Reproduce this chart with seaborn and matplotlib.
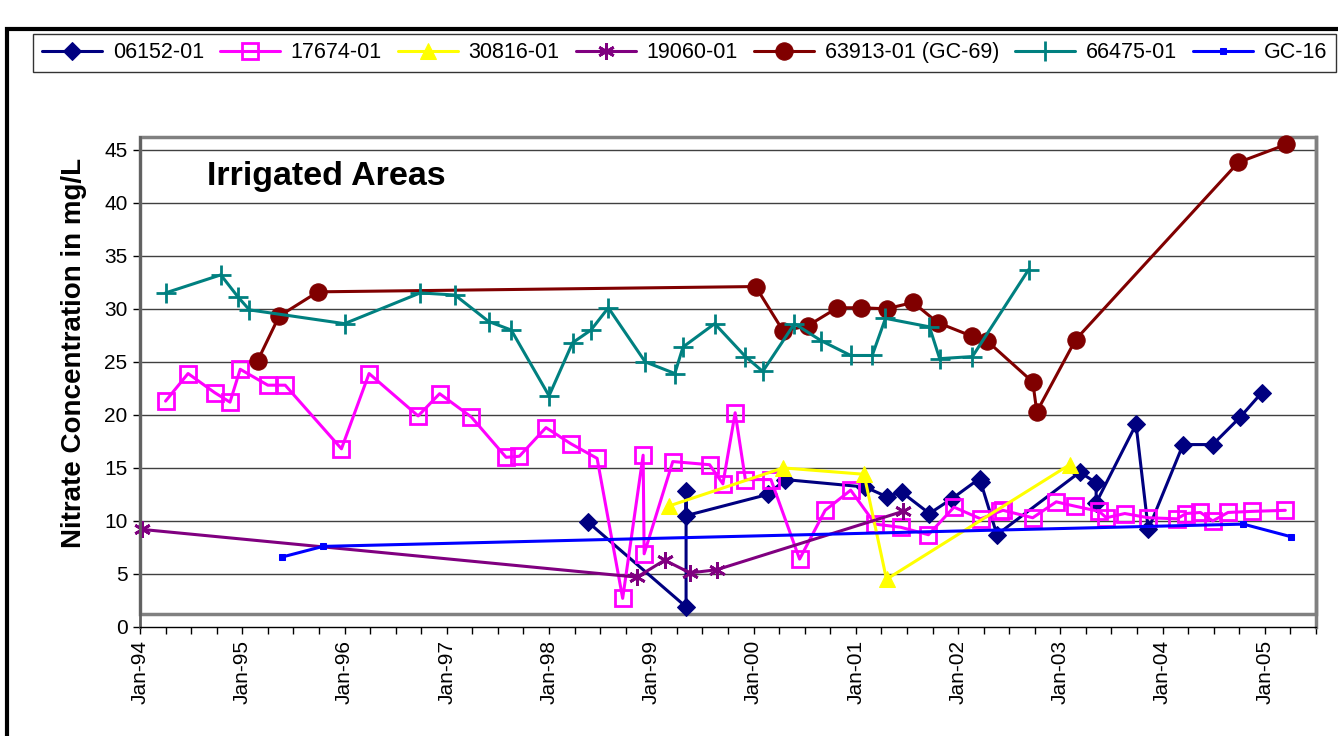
import matplotlib.pyplot as plt
import matplotlib.patches as patches
import pandas as pd
import seaborn as sns
from matplotlib.ticker import MultipleLocator

# dates as decimal years, values in mg/L
well_06152_x = [1998.38, 1999.34, 1999.34, 1999.34, 2000.14, 2000.31, 2001.09, 2001.30,
                2001.45, 2001.72, 2001.94, 2002.21, 2002.22, 2002.38, 2003.19, 2003.35,
                2003.35, 2003.74, 2003.86, 2004.20, 2004.49, 2004.76, 2004.97]
well_06152_y = [9.9, 1.9, 12.8, 10.5, 12.5, 13.9, 13.2, 12.3,
                12.7, 10.7, 12.1, 14.0, 13.7, 8.7, 14.6, 13.6,
                11.7, 19.1, 9.2, 17.2, 17.2, 19.8, 22.1]

well_17674_x = [1994.25, 1994.47, 1994.73, 1994.88, 1994.98, 1995.25, 1995.42, 1995.97,
                1996.24, 1996.72, 1996.93, 1997.24, 1997.58, 1997.71, 1997.97, 1998.21,
                1998.47, 1998.72, 1998.92, 1998.93, 1999.21, 1999.57, 1999.70, 1999.82,
                1999.92, 2000.17, 2000.45, 2000.70, 2000.95, 2001.19, 2001.44, 2001.71,
                2001.96, 2002.22, 2002.41, 2002.44, 2002.73, 2002.96, 2003.14, 2003.38,
                2003.45, 2003.63, 2003.86, 2004.14, 2004.23, 2004.37, 2004.49, 2004.64,
                2004.87, 2005.20]
well_17674_y = [21.3, 23.9, 22.1, 21.2, 24.3, 22.8, 22.8, 16.8,
                23.9, 19.9, 22.0, 19.8, 16.0, 16.1, 18.8, 17.3,
                15.9, 2.7, 16.2, 6.9, 15.6, 15.3, 13.5, 20.2,
                13.9, 13.9, 6.4, 11.0, 12.9, 9.7, 9.4, 8.7,
                11.3, 10.2, 10.9, 11.0, 10.3, 11.8, 11.4, 10.9,
                10.3, 10.7, 10.3, 10.2, 10.7, 10.8, 10.0, 10.8,
                10.9, 11.0]

well_30816_x = [1999.17, 2000.29, 2001.08, 2001.30, 2003.09]
well_30816_y = [11.4, 15.0, 14.4, 4.5, 15.3]

well_19060_x = [1994.02, 1998.86, 1999.13, 1999.38, 1999.64, 2001.46]
well_19060_y = [9.2, 4.7, 6.3, 5.1, 5.4, 10.9]

well_63913_x = [1995.15, 1995.36, 1995.74, 2000.02, 2000.29, 2000.53, 2000.82, 2001.05,
                2001.30, 2001.56, 2001.80, 2002.14, 2002.28, 2002.73, 2002.77, 2003.15,
                2004.74, 2005.21]
well_63913_y = [25.1, 29.3, 31.6, 32.1, 27.9, 28.4, 30.1, 30.1,
                30.0, 30.6, 28.7, 27.4, 27.0, 23.1, 20.3, 27.1,
                43.8, 45.5]

well_66475_x = [1994.25, 1994.79, 1994.96, 1995.07, 1996.00, 1996.74, 1997.08, 1997.41,
                1997.63, 1998.00, 1998.23, 1998.41, 1998.58, 1998.94, 1999.23, 1999.31,
                1999.62, 1999.92, 2000.09, 2000.40, 2000.66, 2000.95, 2001.16, 2001.29,
                2001.72, 2001.82, 2002.14, 2002.69]
well_66475_y = [31.5, 33.2, 31.1, 29.9, 28.6, 31.5, 31.3, 28.8,
                28.0, 21.8, 26.8, 28.0, 30.1, 25.0, 23.9, 26.4,
                28.6, 25.5, 24.1, 28.6, 27.0, 25.6, 25.6, 29.1,
                28.3, 25.3, 25.5, 33.7]

gc16_x = [1995.39, 1995.79, 2004.79, 2005.26]
gc16_y = [6.6, 7.6, 9.7, 8.5]

year_labels = ['Jan-94', 'Jan-95', 'Jan-96', 'Jan-97', 'Jan-98', 'Jan-99',
               'Jan-00', 'Jan-01', 'Jan-02', 'Jan-03', 'Jan-04', 'Jan-05']


def main():
    sns.set_theme(style="white")
    plt.rcParams['font.family'] = ['Liberation Sans', 'DejaVu Sans']
    plt.rcParams['text.color'] = 'black'
    plt.rcParams['axes.labelcolor'] = 'black'
    plt.rcParams['xtick.color'] = 'black'
    plt.rcParams['ytick.color'] = 'black'

    fig = plt.figure(figsize=(13.38, 7.36), dpi=100)
    W, H = 1338, 736
    ax = fig.add_axes([140 / W, (H - 627) / H, (1316 - 140) / W, (627 - 137) / H])

    series = [
        ('06152-01', well_06152_x, well_06152_y, '#000080',
         dict(marker='D', markersize=9, markerfacecolor='#000080', markeredgecolor='#000080')),
        ('17674-01', well_17674_x, well_17674_y, '#FF00FF',
         dict(marker='s', markersize=11, markerfacecolor='none', markeredgecolor='#FF00FF',
              markeredgewidth=2)),
        ('30816-01', well_30816_x, well_30816_y, '#FFFF00',
         dict(marker='^', markersize=12, markerfacecolor='#FFFF00', markeredgecolor='#FFFF00')),
        ('19060-01', well_19060_x, well_19060_y, '#800080',
         dict(marker=(6, 2, 0), markersize=12, markeredgecolor='#800080', markeredgewidth=2)),
        ('63913-01 (GC-69)', well_63913_x, well_63913_y, '#800000',
         dict(marker='o', markersize=12.5, markerfacecolor='#800000', markeredgecolor='#800000')),
        ('66475-01', well_66475_x, well_66475_y, '#008080',
         dict(marker='+', markersize=14, markeredgecolor='#008080', markeredgewidth=2)),
        ('GC-16', gc16_x, gc16_y, '#0000FF',
         dict(marker='s', markersize=4, markerfacecolor='#0000FF', markeredgecolor='#0000FF')),
    ]

    for name, xs, ys, color, mk in series:
        df = pd.DataFrame({'date': xs, 'nitrate': ys})
        sns.lineplot(x='date', y='nitrate', data=df, ax=ax, color=color,
                     estimator=None, sort=False, linewidth=2.2, label=name,
                     clip_on=False, **mk)

    ax.set_xlim(1994, 2005.5)
    ax.set_ylim(0, 46.2)

    ax.set_xticks(range(1994, 2006))
    ax.set_xticklabels(year_labels, rotation=90, fontsize=15)
    ax.xaxis.set_minor_locator(MultipleLocator(0.25))
    ax.set_yticks(range(0, 50, 5))
    ax.tick_params(axis='y', labelsize=15, length=5, width=1, direction='out',
                   left=True, color='black', pad=4)
    ax.tick_params(axis='x', which='both', length=5, width=1, direction='out',
                   bottom=True, color='black', pad=4)

    for y in range(5, 50, 5):
        ax.axhline(y, color='#404040', linewidth=1, zorder=0)

    ax.spines['top'].set_visible(False)
    ax.spines['right'].set_color('#808080')
    ax.spines['right'].set_linewidth(2.5)
    ax.spines['left'].set_color('#606060')
    ax.spines['left'].set_linewidth(2)
    ax.spines['bottom'].set_color('black')
    ax.spines['bottom'].set_linewidth(1)

    # Excel plot-area border sitting just above the category axis
    ax.add_patch(patches.Rectangle((1994, 1.25), 11.5, 44.95, fill=False,
                                   edgecolor='#808080', linewidth=2.5,
                                   clip_on=False, zorder=1))

    ax.set_xlabel('')
    ax.set_ylabel('Nitrate Concentration in mg/L', fontsize=20, fontweight='bold')
    ax.yaxis.set_label_coords(-0.045, 0.56)

    fig.text(207 / W, 1 - 177 / H, 'Irrigated Areas', fontsize=24.5,
             fontweight='bold', va='center', ha='left')

    handles, labels = ax.get_legend_handles_labels()
    ax.legend(handles, labels, loc='lower left', ncol=7, mode='expand',
              bbox_to_anchor=(33 / W, 1 - 72 / H, (1336 - 33) / W, 39 / H),
              bbox_transform=fig.transFigure, borderaxespad=0, fontsize=15.5,
              frameon=True, fancybox=False, edgecolor='black', handlelength=2.8,
              handletextpad=0.5, columnspacing=0.5)
    ax.get_legend().get_frame().set_linewidth(1)

    # outer chart border (left and top edges visible)
    fig.patches.append(patches.Rectangle((7 / W, -0.05), 1.2, 1 - 29 / H + 0.05,
                                         transform=fig.transFigure, fill=False,
                                         edgecolor='black', linewidth=3))

    plt.savefig('out.png', dpi=100)
    plt.close()


if __name__ == '__main__':
    main()
